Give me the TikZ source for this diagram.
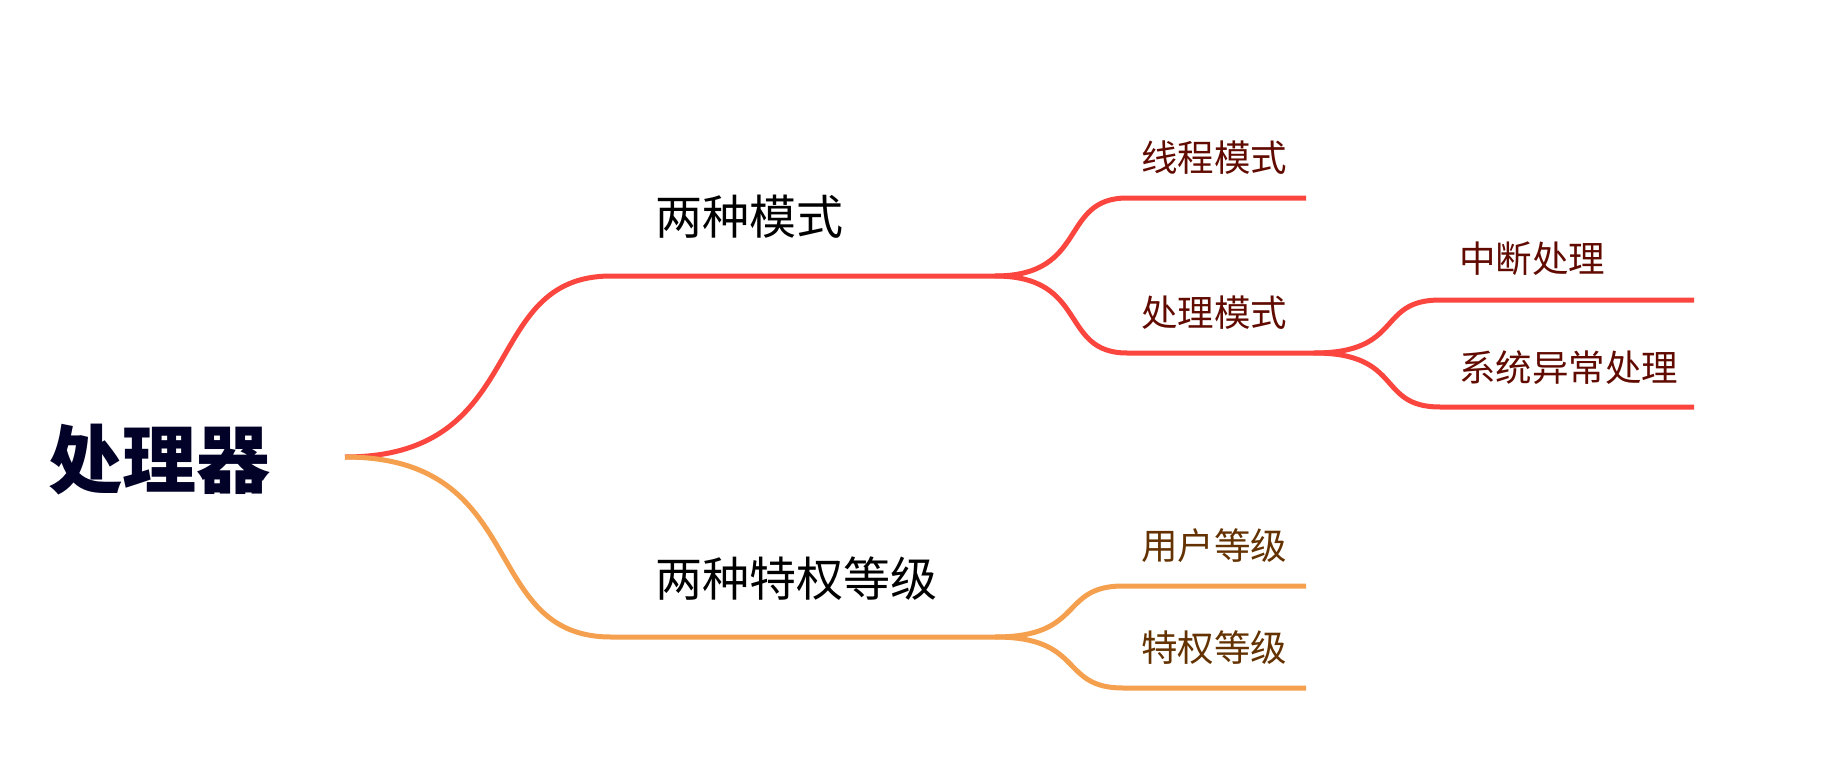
\documentclass[tikz,border=0pt]{standalone}
\usepackage{fontspec}
\newfontfamily\cjk{Noto Sans CJK SC}
\definecolor{redline}{RGB}{250,70,62}
\definecolor{orgline}{RGB}{245,160,78}
\definecolor{redtext}{RGB}{96,10,0}
\definecolor{orgtext}{RGB}{100,50,0}
\definecolor{roottext}{RGB}{2,2,40}
\begin{document}
\begin{tikzpicture}[x=1pt,y=-1pt,
  lbl/.style={anchor=base west, inner sep=0pt},
  rootlbl/.style={lbl, text=roottext, font=\cjk\bfseries\fontsize{74}{80}\selectfont},
  mainlbl/.style={lbl, text=black, font=\cjk\fontsize{47}{52}\selectfont},
  redlbl/.style={lbl, text=redtext, font=\cjk\fontsize{36.5}{42}\selectfont},
  orglbl/.style={lbl, text=orgtext, font=\cjk\fontsize{36.5}{42}\selectfont},
  redbr/.style={draw=redline, line width=5pt},
  orgbr/.style={draw=orgline, line width=5pt}]
\useasboundingbox (0,0) rectangle (1824,768);

% labels
\node[rootlbl] (root) at (48,487) {处理器};
\node[mainlbl] (mode) at (655,234) {两种模式};
\node[mainlbl] (priv) at (655,596) {两种特权等级};
\node[redlbl] (thread) at (1141,171) {线程模式};
\node[redlbl] (handler) at (1141,326) {处理模式};
\node[redlbl] (irq) at (1459,272) {中断处理};
\node[redlbl] (exc) at (1459,381) {系统异常处理};
\node[orglbl] (user) at (1141,559) {用户等级};
\node[orglbl] (privl) at (1141,661) {特权等级};

% branch points
\coordinate (r0) at (345,457);
\coordinate (m1s) at (611,276);
\coordinate (m1e) at (995,276);
\coordinate (s1s) at (1127,198);
\coordinate (s1e) at (1306,198);
\coordinate (s2s) at (1127,353);
\coordinate (s2e) at (1314,353);
\coordinate (t1s) at (1440,300);
\coordinate (t1e) at (1694,300);
\coordinate (t2s) at (1440,407);
\coordinate (t2e) at (1694,407);
\coordinate (m2s) at (611,637);
\coordinate (m2e) at (995,637);
\coordinate (o1s) at (1123,586);
\coordinate (o1e) at (1306,586);
\coordinate (o2s) at (1123,688);
\coordinate (o2e) at (1306,688);

% red branch
\draw[redbr] (r0) .. controls +(186,0) and +(-133,0) .. (m1s) -- (m1e);
\draw[redbr] (m1e) .. controls +(94,0) and +(-68,0) .. (s1s) -- (s1e);
\draw[redbr] (m1e) .. controls +(94,0) and +(-68,0) .. (s2s) -- (s2e);
\draw[redbr] (s2e) .. controls +(90,0) and +(-64,0) .. (t1s) -- (t1e);
\draw[redbr] (s2e) .. controls +(90,0) and +(-64,0) .. (t2s) -- (t2e);

% orange branch
\draw[orgbr] (r0) .. controls +(186,0) and +(-133,0) .. (m2s) -- (m2e);
\draw[orgbr] (m2e) .. controls +(90,0) and +(-64,0) .. (o1s) -- (o1e);
\draw[orgbr] (m2e) .. controls +(90,0) and +(-64,0) .. (o2s) -- (o2e);
\end{tikzpicture}
\end{document}
